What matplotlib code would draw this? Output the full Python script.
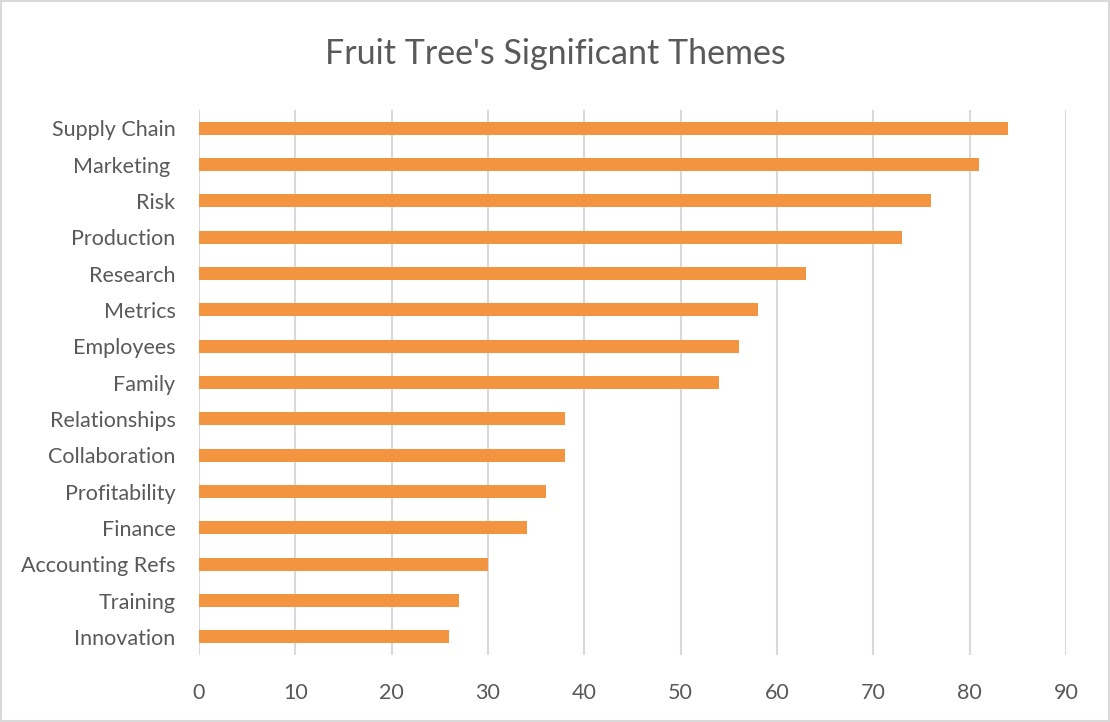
import numpy as np
import matplotlib.pyplot as plt

themes = ['Supply Chain', 'Marketing ', 'Risk', 'Production', 'Research', 'Metrics',
          'Employees', 'Family', 'Relationships', 'Collaboration', 'Profitability',
          'Finance', 'Accounting Refs', 'Training', 'Innovation']
counts = [84, 81, 76, 73, 63, 58, 56, 54, 38, 38, 36, 34, 30, 27, 26]
xticks = list(range(0, 100, 10))

plt.rcParams['font.family'] = ['Lato', 'DejaVu Sans']
text_col = '#595959'

fig = plt.figure(figsize=(11.1, 7.22), dpi=100)
ax = fig.add_axes([0.1793, 0.0928, 0.7811, 0.7548])

y = np.arange(len(themes))
ax.barh(y, counts, height=0.36, color='#F39441', zorder=3)

ax.set_ylim(len(themes) - 0.5, -0.5)
ax.set_xlim(0, 90)
ax.set_xticks(xticks)
ax.set_yticks(y)
ax.set_yticklabels(themes)
ax.tick_params(axis='both', length=0, colors=text_col, labelsize=15.5)
ax.tick_params(axis='x', pad=20)
ax.tick_params(axis='y', pad=17)
ax.grid(axis='x', color='#D9D9D9', linewidth=1.5, zorder=0)
for s in ax.spines.values():
    s.set_visible(False)

fig.text(0.5, 0.925, "Fruit Tree's Significant Themes", ha='center', va='center',
         fontsize=24.5, color=text_col)

# outer chart border
fig.patches.append(plt.Rectangle((0.001, 0.001), 0.998, 0.997, transform=fig.transFigure,
                                 fill=False, edgecolor='#D9D9D9', linewidth=1.5))

fig.savefig('out.png', dpi=100)
